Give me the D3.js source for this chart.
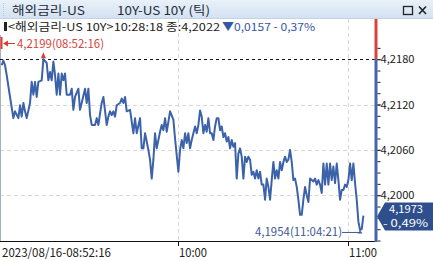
<!DOCTYPE html>
<html>
<head>
<meta charset="utf-8">
<script src="https://cdn.jsdelivr.net/npm/d3@7"></script>
<style>
  body { margin: 0; background: #fff; }
  svg { display: block; }
  text { font-family: "Noto Sans CJK KR", "Noto Sans", sans-serif; }
</style>
</head>
<body>
<svg id="chart" width="433" height="260"></svg>
<script>
var titleLeft = '해외금리-US',
    titleRight = '10Y-US 10Y (틱)';
var infoName = '<해외금리-US 10Y>10:28:18 종:4,2022',
    infoChange = '▼0,0157  - 0,37%';
var lastPrice = 4.1973,
    lastPct = '- 0,49%';
var highLabel = '4,2199(08:52:16)',
    lowLabel = '4,1954(11:04:21)';

var yTicks = [4.2000, 4.2060, 4.2120, 4.2180];
var axisTickNo = [0, 106, 208];
var axisLabels = ['2023/08/16-08:52:16', '10:00', '11:00'];

// tick number (x) and price of each trade
var tickNo = [0, 1, 2, 3, 5, 7, 8, 10, 11, 12, 13, 14, 15, 17, 18, 19, 20, 21, 22, 24,
  25, 27, 28, 29, 30, 31, 32, 33, 34, 35, 36, 37, 38, 39, 41, 42, 43, 44, 46, 47,
  48, 50, 51, 52, 53, 54, 56, 57, 58, 59, 60, 61, 63, 64, 65, 66, 67, 68, 69, 71,
  72, 73, 74, 75, 77, 79, 80, 81, 83, 84, 85, 86, 88, 89, 90, 91, 92, 93, 95, 96,
  97, 98, 99, 100, 101, 103, 104, 106, 107, 108, 109,
  110, 111, 112, 113, 114, 115, 116, 117, 118, 119, 120, 121, 122, 123, 124, 125,
  126, 127, 128, 129, 130, 131, 132, 133, 134, 135, 136, 137, 138, 139, 140, 141,
  142, 143, 144, 145, 146, 147, 148, 149, 150, 151, 152, 153, 154, 155, 156, 157,
  158, 159, 160, 161, 162, 163, 164, 165, 166, 167, 168, 169, 170, 171, 172, 173,
  174, 175, 176, 177, 178, 179, 180, 181, 182, 183, 184, 185, 186, 187, 188, 189,
  190, 191, 192, 193, 194, 195, 196, 197, 198, 199, 200, 201, 202, 203, 204, 205,
  206, 207, 208, 209, 210, 211, 212, 213, 214, 215, 216, 217];

var price = [4.2172, 4.2178, 4.2172, 4.2159, 4.2130, 4.2102, 4.2111, 4.2102, 4.2119, 4.2104,
  4.2122, 4.2111, 4.2102, 4.2122, 4.2150, 4.2133, 4.2150, 4.2130, 4.2150, 4.2152,
  4.2180, 4.2175, 4.2152, 4.2163, 4.2152, 4.2177, 4.2159, 4.2133, 4.2161, 4.2133,
  4.2161, 4.2152, 4.2161, 4.2133, 4.2133, 4.2141, 4.2113, 4.2130, 4.2141, 4.2113,
  4.2122, 4.2141, 4.2122, 4.2141, 4.2106, 4.2093, 4.2093, 4.2102, 4.2093, 4.2108,
  4.2122, 4.2130, 4.2093, 4.2104, 4.2111, 4.2106, 4.2111, 4.2104, 4.2119, 4.2122,
  4.2128, 4.2122, 4.2130, 4.2111, 4.2113, 4.2082, 4.2102, 4.2082, 4.2102, 4.2062,
  4.2062, 4.2082, 4.2060, 4.2047, 4.2022, 4.2047, 4.2082, 4.2062, 4.2084, 4.2093,
  4.2086, 4.2102, 4.2084, 4.2097, 4.2111, 4.2100, 4.2075, 4.2031, 4.2060, 4.2073, 4.2062,
  4.2082, 4.2069, 4.2082, 4.2062, 4.2073, 4.2082, 4.2091, 4.2082, 4.2093, 4.2112,
  4.2104, 4.2082, 4.2093, 4.2084, 4.2102, 4.2082, 4.2082, 4.2073, 4.2091, 4.2102,
  4.2102, 4.2086, 4.2091, 4.2077, 4.2082, 4.2071, 4.2077, 4.2062, 4.2073, 4.2064,
  4.2069, 4.2022, 4.2055, 4.2062, 4.2051, 4.2022, 4.2051, 4.2044, 4.2051, 4.2047,
  4.2027, 4.2031, 4.2022, 4.2033, 4.2022, 4.2031, 4.2014, 4.2014, 4.1994, 4.2022,
  4.2011, 4.1994, 4.2020, 4.2044, 4.2022, 4.2033, 4.2022, 4.2044, 4.2033, 4.2044,
  4.2051, 4.2044, 4.2047, 4.2060, 4.2044, 4.2020, 4.2022, 4.2011, 4.1994, 4.1974,
  4.1974, 4.1994, 4.2011, 4.2000, 4.1991, 4.2022, 4.2020, 4.2018, 4.2022, 4.2014,
  4.2020, 4.2014, 4.2003, 4.2042, 4.2014, 4.2042, 4.2014, 4.2042, 4.2020, 4.2038,
  4.2016, 4.2042, 4.2020, 4.1994, 4.2007, 4.2007, 4.2014, 4.2011, 4.2020, 4.2042,
  4.2020, 4.2042, 4.2016, 4.1994, 4.1965, 4.1954, 4.1955, 4.1973];

var svg = d3.select('#chart');
var W = 433, H = 260;
var plotTop = 19, plotBottom = 241, axisX = 376;

var locale = d3.formatLocale({decimal: ',', thousands: '.', grouping: [3], currency: ['', '']});
var fmt = locale.format('.4f');

var x = d3.scaleLinear().domain([0, 217]).range([1.7, 363.4]);
var y = d3.scaleLinear().domain([4.2000, 4.2180]).range([195.2, 59.2]);

var data = tickNo.map(function(t, i) { return {t: t, p: price[i]}; });
var hi = d3.greatest(data, function(d) { return d.p; });
var lo = d3.least(data, function(d) { return d.p; });

// title bar
var grad = svg.append('defs').append('linearGradient')
  .attr('id', 'tbar').attr('x1', 0).attr('y1', 0).attr('x2', 0).attr('y2', 1);
grad.append('stop').attr('offset', 0).attr('stop-color', '#e9f1f9');
grad.append('stop').attr('offset', 1).attr('stop-color', '#d3e2f1');

svg.append('rect').attr('x', 0).attr('y', 0).attr('width', W).attr('height', 18)
  .style('fill', 'url(#tbar)');
svg.append('line').attr('x1', 0).attr('x2', W).attr('y1', 18.5).attr('y2', 18.5)
  .style('stroke', '#c4d2e2');
svg.append('line').attr('x1', 3.5).attr('x2', 3.5).attr('y1', 3).attr('y2', 16)
  .style('stroke', '#b9c7d6').style('stroke-dasharray', '1,1');

svg.append('text').attr('x', 12).attr('y', 15).text(titleLeft)
  .attr('textLength', 73).attr('lengthAdjust', 'spacingAndGlyphs')
  .style('font-size', '12px').style('fill', '#1e2a3a');
svg.append('text').attr('x', 117).attr('y', 15).text(titleRight)
  .attr('textLength', 93).attr('lengthAdjust', 'spacingAndGlyphs')
  .style('font-size', '12px').style('fill', '#1e2a3a');

// window buttons
svg.append('rect').attr('x', 403.5).attr('y', 6.5).attr('width', 9).attr('height', 8)
  .style('fill', 'none').style('stroke', '#222').style('stroke-width', 1.3);
svg.append('path').attr('d', 'M419,6.5L426,14M426,6.5L419,14')
  .style('stroke', '#222').style('stroke-width', 1.6);

// grid
var grid = svg.append('g');
grid.selectAll('line.h').data(yTicks.slice(0, 3)).enter().append('line')
  .attr('x1', 0).attr('x2', axisX)
  .attr('y1', function(d) { return Math.round(y(d)) + 0.5; })
  .attr('y2', function(d) { return Math.round(y(d)) + 0.5; })
  .style('stroke', '#d8d8d8').style('stroke-dasharray', '4,3');
grid.selectAll('line.v').data(axisTickNo.slice(1)).enter().append('line')
  .attr('x1', function(d) { return Math.round(x(d)) + 0.5; })
  .attr('x2', function(d) { return Math.round(x(d)) + 0.5; })
  .attr('y1', plotTop).attr('y2', plotBottom)
  .style('stroke', '#d8d8d8').style('stroke-dasharray', '4,3');

// left border
svg.append('line').attr('x1', 0.5).attr('x2', 0.5).attr('y1', 35).attr('y2', plotBottom)
  .style('stroke', '#a8b0bc');

// high line
svg.append('line').attr('x1', 0).attr('x2', axisX)
  .attr('y1', Math.round(y(hi.p)) + 0.5).attr('y2', Math.round(y(hi.p)) + 0.5)
  .style('stroke', '#111').style('stroke-dasharray', '3,3');

// info line
svg.append('rect').attr('x', 4).attr('y', 22).attr('width', 3).attr('height', 9).style('fill', '#222');
svg.append('text').attr('x', 8).attr('y', 30.5).text(infoName)
  .attr('textLength', 212).attr('lengthAdjust', 'spacingAndGlyphs')
  .style('font-size', '11px').style('fill', '#222');
svg.append('text').attr('x', 222).attr('y', 30.5).text(infoChange)
  .attr('textLength', 93).attr('lengthAdjust', 'spacingAndGlyphs')
  .style('font-size', '11px').style('fill', '#3557a8');

// price line
var line = d3.line()
  .x(function(d) { return x(d.t); })
  .y(function(d) { return y(d.p); });

svg.append('path').datum(data).attr('d', line)
  .style('fill', 'none').style('stroke', '#3c62aa').style('stroke-width', 2)
  .style('stroke-linejoin', 'round');

// high marker
var hx = x(hi.t), hy = y(hi.p);
svg.append('path').attr('d', 'M' + hx + ',' + (hy - 7) + 'L' + (hx + 2.5) + ',' + (hy - 1) + 'L' + (hx - 2.5) + ',' + (hy - 1) + 'Z')
  .style('fill', '#e0392f');
svg.append('line').attr('x1', 1.5).attr('x2', 1.5).attr('y1', 37).attr('y2', 49)
  .style('stroke', '#e0392f').style('stroke-width', 2);
svg.append('line').attr('x1', 4).attr('x2', 15).attr('y1', 43.5).attr('y2', 43.5)
  .style('stroke', '#e0392f');
svg.append('path').attr('d', 'M3,43.5L8,40.5L8,46.5Z').style('fill', '#e0392f');
svg.append('text').attr('x', 17).attr('y', 48).text(highLabel)
  .attr('textLength', 87).attr('lengthAdjust', 'spacingAndGlyphs')
  .style('font-size', '11.5px').style('fill', '#d6453c');

// low marker
var lx = x(lo.t), ly = y(lo.p);
svg.append('line').attr('x1', 342).attr('x2', lx).attr('y1', ly + 2.5).attr('y2', ly + 2.5)
  .style('stroke', '#3c5a96');
svg.append('path').attr('d', 'M' + lx + ',' + (ly + 0.5) + 'L' + (lx + 2.5) + ',' + (ly + 3.5) + 'L' + (lx - 2.5) + ',' + (ly + 3.5) + 'Z')
  .style('fill', '#3c5a96');
svg.append('text').attr('x', 255).attr('y', ly + 6.5).text(lowLabel)
  .attr('textLength', 87).attr('lengthAdjust', 'spacingAndGlyphs')
  .style('font-size', '11.5px').style('fill', '#3c5a96');

// bottom axis
svg.append('line').attr('x1', 0).attr('x2', axisX).attr('y1', plotBottom + 0.5).attr('y2', plotBottom + 0.5)
  .style('stroke', '#111').style('stroke-width', 1.2);
var xAxisG = svg.append('g');
xAxisG.selectAll('line').data(axisTickNo.slice(1)).enter().append('line')
  .attr('x1', function(d) { return Math.round(x(d)) + 0.5; })
  .attr('x2', function(d) { return Math.round(x(d)) + 0.5; })
  .attr('y1', plotBottom).attr('y2', plotBottom + 5)
  .style('stroke', '#111');
xAxisG.selectAll('text').data(axisTickNo).enter().append('text')
  .attr('x', function(d, i) { return i === 0 ? 2 : Math.round(x(d)) + 1; })
  .attr('y', 256.5)
  .attr('textLength', function(d, i) { return i === 0 ? 109 : 28; })
  .attr('lengthAdjust', 'spacingAndGlyphs')
  .text(function(d, i) { return axisLabels[i]; })
  .style('font-size', '12px').style('fill', '#222');

// right axis
svg.append('line').attr('x1', axisX).attr('x2', axisX).attr('y1', plotTop).attr('y2', y(hi.p))
  .style('stroke', '#d9443a').style('stroke-width', 3);
svg.append('line').attr('x1', axisX).attr('x2', axisX).attr('y1', y(hi.p)).attr('y2', plotBottom + 1)
  .style('stroke', '#4465a8').style('stroke-width', 3);

var minorTicks = d3.range(4.1940, 4.2196, 0.0015);
var minorAxis = d3.axisRight(y).tickValues(minorTicks).tickSize(3).tickFormat('');
svg.append('g').attr('transform', 'translate(' + (axisX + 1.5) + ',0)').call(minorAxis)
  .call(function(g) { g.select('.domain').remove(); })
  .selectAll('line').style('stroke', '#222');

var yAxis = d3.axisRight(y).tickValues(yTicks).tickSize(3).tickPadding(0).tickFormat(fmt);
var yg = svg.append('g').attr('transform', 'translate(' + (axisX + 1.5) + ',0)').call(yAxis);
yg.select('.domain').remove();
yg.selectAll('line').style('stroke', '#222');
yg.selectAll('text')
  .attr('textLength', 34).attr('lengthAdjust', 'spacingAndGlyphs')
  .style('font-size', '11px').style('fill', '#222')
  .style('font-family', '"Noto Sans CJK KR", "Noto Sans", sans-serif');

// last price tag
var tagY = y(lastPrice);
svg.append('path')
  .attr('d', 'M377,' + (tagY + 1) + 'L385,' + (tagY - 13) + 'L433,' + (tagY - 13) + 'L433,' + (tagY + 15) + 'L385,' + (tagY + 15) + 'Z')
  .style('fill', '#2f4f8c');
svg.append('text').attr('x', 406).attr('y', tagY - 3).attr('text-anchor', 'middle')
  .attr('textLength', 34).attr('lengthAdjust', 'spacingAndGlyphs')
  .text(fmt(lastPrice)).style('font-size', '10px').style('fill', '#fff');
svg.append('text').attr('x', 405.5).attr('y', tagY + 11).attr('text-anchor', 'middle')
  .attr('textLength', 45).attr('lengthAdjust', 'spacingAndGlyphs')
  .text(lastPct).style('font-size', '10px').style('fill', '#fff');
</script>
</body>
</html>
